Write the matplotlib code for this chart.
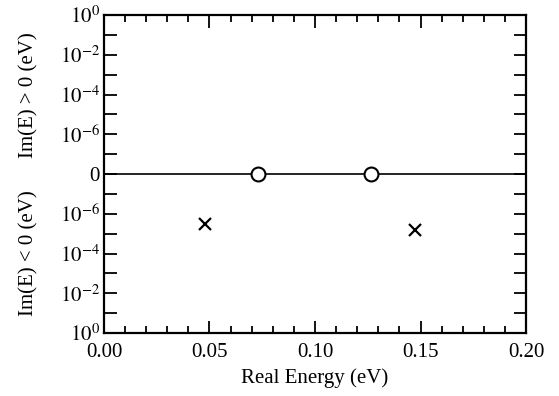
import numpy as np
import matplotlib
matplotlib.use("Agg")
import matplotlib.pyplot as plt
from matplotlib.ticker import FixedLocator, MultipleLocator

# data (Im(E) in eV, negative = decaying)
real_open = [0.073, 0.1265]
imag_open = [0.0, 0.0]
real_cross = [0.048, 0.1475]
imag_cross = [-3.4e-6, -6.8e-6]

ytick_vals = [-1, -1e-1, -1e-2, -1e-3, -1e-4, -1e-5, -1e-6, -1e-7, 0,
              1e-7, 1e-6, 1e-5, 1e-4, 1e-3, 1e-2, 1e-1, 1]
ytick_labels = {1: r"$10^{0}$", 1e-2: r"$10^{-2}$", 1e-4: r"$10^{-4}$",
                1e-6: r"$10^{-6}$", 0: "0"}

FLOOR = 8  # decades between 10^0 and the "0" line


def fwd(v):
    v = np.asarray(v, dtype=float)
    a = np.abs(v)
    with np.errstate(divide="ignore", invalid="ignore"):
        out = np.where(a >= 10.0 ** -FLOOR, np.sign(v) * (np.log10(a) + FLOOR), 0.0)
    return out


def inv(y):
    y = np.asarray(y, dtype=float)
    return np.sign(y) * 10.0 ** (np.abs(y) - FLOOR)


plt.rcParams["font.family"] = "Liberation Serif"
plt.rcParams["mathtext.fontset"] = "stix"

fig = plt.figure(figsize=(5.59, 3.96), dpi=100)
ax = fig.add_axes([0.186, 0.159, 0.755, 0.803])
ax.set_yscale("function", functions=(fwd, inv))
ax.set_xlim(0, 0.2)
ax.set_ylim(-1, 1)

ax.axhline(0, color="black", lw=1.2, zorder=1)
ax.plot(real_open, imag_open, "o", ms=10, mfc="white", mec="black", mew=1.5, zorder=3)
ax.plot(real_cross, imag_cross, "x", ms=9, color="black", mew=1.6, zorder=3)

labels = [ytick_labels.get(abs(v), "") for v in ytick_vals]
ax.set_yticks(ytick_vals)
ax.set_yticklabels(labels)
ax.yaxis.set_minor_locator(FixedLocator([]))

ax.xaxis.set_major_locator(MultipleLocator(0.05))
ax.xaxis.set_minor_locator(MultipleLocator(0.01))
ax.set_xticklabels(["%.2f" % t for t in ax.get_xticks()])

ax.tick_params(which="both", direction="in", top=True, right=True, width=1.3,
               labelsize=15, colors="black")
ax.tick_params(axis="y", which="major", length=9, pad=3)
ax.tick_params(axis="x", which="major", length=9, pad=7)
ax.tick_params(axis="x", which="minor", length=5)
for s in ax.spines.values():
    s.set_linewidth(1.6)

ax.set_xlabel("Real Energy (eV)", fontsize=15, labelpad=5)
fig.text(0.052, 0.76, "Im(E) > 0 (eV)", rotation=90, fontsize=15,
         ha="center", va="center")
fig.text(0.052, 0.36, "Im(E) < 0 (eV)", rotation=90, fontsize=15,
         ha="center", va="center")

fig.savefig("out.png", dpi=100)
